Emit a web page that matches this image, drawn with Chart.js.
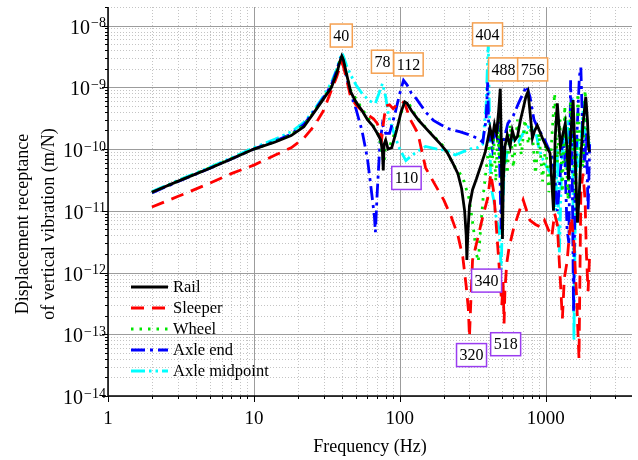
<!DOCTYPE html>
<html>
<head>
<meta charset="utf-8">
<script src="https://cdn.jsdelivr.net/npm/chart.js@4.4.1/dist/chart.umd.min.js"></script>
<style>
  html, body { margin: 0; padding: 0; background: #fff; }
</style>
</head>
<body>
<canvas id="chart" width="638" height="460"></canvas>
<script>
// frequency (Hz) / receptance (m/N)
const railFreq = [2,3,5,7,10,14,18,22,26,30,34,37,39,40,41,43,46,50,55,60,65,70,74,76,77,78,80,83,88,95,102,108,112,120,135,150,170,190,210,230,250,265,278,285,288,292,300,315,335,360,385,400,415,430,445,460,475,488,495,500,505,512,525,545,570,590,615,640,670,700,730,756,780,810,840,875,920,960,1010,1070,1100,1130,1160,1200,1230,1260,1300,1360,1400,1430,1480,1540,1600,1650,1700,1740,1800,1880,1930,1970,2000];
const railVals = [2e-11,3e-11,4.9e-11,6.9e-11,1.0e-10,1.3e-10,1.65e-10,2.3e-10,4.0e-10,6.5e-10,1.0e-9,1.7e-9,2.7e-9,3.2e-9,2.8e-9,1.7e-9,8.5e-10,5.8e-10,4.2e-10,3.0e-10,2.4e-10,1.8e-10,1.4e-10,9e-11,4.5e-11,1.2e-10,1.4e-10,1.0e-10,1.05e-10,2.0e-10,4.0e-10,5.8e-10,5.5e-10,4.2e-10,2.9e-10,2.2e-10,1.6e-10,1.2e-10,9e-11,6e-11,4e-11,2.3e-11,1.0e-11,4e-12,1.6e-12,4e-12,1.2e-11,2.2e-11,3.3e-11,5.5e-11,9e-11,1.4e-10,2.2e-10,1.5e-10,2.5e-10,1.8e-10,4e-10,9.5e-10,1.5e-10,2e-11,3.5e-12,3e-11,1.1e-10,1.7e-10,1.1e-10,2e-10,1.4e-10,1.6e-10,2.9e-10,4.5e-10,7e-10,8.5e-10,4e-10,1.5e-10,2e-10,2.4e-10,1.8e-10,1.4e-10,1.1e-10,8.6e-11,3e-11,1e-11,1.5e-10,5.5e-10,2.5e-10,1.1e-10,1.6e-10,2.6e-10,1e-10,3.2e-11,1.5e-10,6.2e-10,5e-11,6.4e-12,2e-11,7.4e-11,2.5e-10,7e-10,3e-10,1e-10,9e-11];

const sleeperFreq = [2,3,5,7,10,14,18,22,26,30,34,37,39,40,41,43,46,50,55,60,66,70,73,75,77,80,85,90,95,102,108,118,133,150,175,200,225,250,270,285,295,300,305,315,340,370,400,420,440,460,480,500,510,518,525,540,560,600,650,700,740,780,850,920,980,1040,1100,1150,1200,1250,1300,1340,1400,1450,1500,1560,1620,1690,1740,1800,1860,1900,1950,2000];
const sleeperVals = [1.15e-11,1.7e-11,2.8e-11,4e-11,5.5e-11,8e-11,1.05e-10,1.5e-10,2.4e-10,4.2e-10,9e-10,1.5e-9,2.2e-9,2.5e-9,2.2e-9,1.4e-9,7e-10,5.2e-10,4.2e-10,3.6e-10,3.1e-10,2.6e-10,2.0e-10,1.4e-10,2.5e-10,5e-10,5.2e-10,4.5e-10,5.2e-10,6e-10,5.5e-10,3e-10,1.8e-10,5e-11,2.6e-11,1.5e-11,8e-12,4e-12,1.8e-12,6e-13,2.5e-13,9e-14,2.5e-13,1.6e-12,3.4e-12,8e-12,1.6e-11,4e-11,2e-11,5e-12,1.2e-12,3e-13,7e-13,1.5e-13,5e-13,1.4e-12,2.5e-12,5e-12,9e-12,1.5e-11,1e-11,7e-12,6e-12,5.5e-12,7e-12,5e-12,3.8e-12,9e-12,6e-12,1e-12,1.8e-13,8e-13,1.5e-12,4e-12,8e-12,3e-12,5e-13,4e-14,2e-11,4e-11,1.5e-11,2e-12,5e-13,2e-12];

const wheelFreq = [2,3,5,7,10,14,18,22,26,30,34,37,39,40,41,43,46,55,65,72,76,78,80,85,95,108,115,130,160,200,240,270,300,320,335,345,355,375,395,410,425,440,455,470,480,490,500,510,525,545,570,600,640,680,720,760,800,850,900,950,1000,1050,1100,1150,1200,1250,1300,1350,1420,1480,1540,1600,1660,1720,1800,1860,1920,2000];
const wheelVals = [2e-11,3e-11,5e-11,7e-11,1.0e-10,1.32e-10,1.7e-10,2.4e-10,4.1e-10,6.6e-10,1.05e-9,1.8e-9,2.8e-9,3.2e-9,2.8e-9,1.7e-9,9e-10,4.5e-10,2.5e-10,1.6e-10,8e-11,6e-11,1.3e-10,1.1e-10,2.2e-10,5.8e-10,5.5e-10,3.3e-10,1.9e-10,1.1e-10,5e-11,3.5e-11,1.5e-11,5e-12,2e-12,1.5e-12,4e-12,2e-11,6e-11,1.2e-10,4e-11,1.5e-10,3e-11,2e-10,6e-11,3e-10,1.5e-11,2.5e-11,1e-10,4e-11,2.5e-10,5e-11,3e-10,8e-11,3e-10,1.2e-10,2.5e-10,4e-11,1.8e-10,3e-11,1.2e-10,2e-11,1.5e-10,8e-10,6e-11,3e-10,2e-11,5e-10,1.5e-11,6e-10,1e-10,1.5e-11,8e-10,1e-10,5e-11,9e-10,2e-10,1.2e-10];

const axleEndFreq = [2,3,5,7,10,14,18,22,26,30,34,37,39,40,41,43,46,50,55,60,64,67,68,70,73,76,80,85,92,100,106,112,120,130,150,170,190,220,260,300,340,370,390,400,405,415,430,445,460,475,485,495,505,520,550,600,650,700,740,780,830,900,960,1030,1100,1150,1200,1250,1300,1350,1400,1440,1480,1520,1550,1590,1640,1700,1740,1790,1840,1900,1950,2000];
const axleEndVals = [1.95e-11,2.95e-11,4.9e-11,6.9e-11,1.0e-10,1.35e-10,1.75e-10,2.5e-10,4.2e-10,6.8e-10,1.1e-9,1.9e-9,2.9e-9,3.1e-9,2.6e-9,1.5e-9,8e-10,4.5e-10,2e-10,7e-11,2e-11,8e-12,4.5e-12,2e-11,1.2e-10,2.5e-10,1.8e-10,1.8e-10,3.5e-10,8e-10,1.3e-9,1.1e-9,8e-10,6.5e-10,4e-10,2.9e-10,2.5e-10,2.1e-10,1.9e-10,1.7e-10,1.5e-10,1.3e-10,3e-10,1.2e-9,3e-10,1.5e-10,1e-10,2e-10,1.6e-10,3e-10,4e-11,5e-12,4e-11,1.5e-10,2.6e-10,3.5e-10,5.5e-10,8e-10,1.05e-9,7e-10,3e-10,2e-10,1.6e-10,1.1e-10,8e-11,4e-11,1e-11,3e-11,1.5e-10,8e-11,5e-12,3e-12,1.3e-9,4e-11,2.3e-13,3e-11,2e-10,1.5e-9,2.1e-9,2e-10,5e-11,1.8e-10,1e-11,1.2e-10];

const axleMidFreq = [2,3,5,7,10,14,18,22,26,30,34,37,39,40,41,43,46,50,55,62,68,72,76,80,84,90,98,105,110,118,130,150,180,210,240,270,300,340,370,390,400,404,410,420,440,460,480,495,505,520,550,600,650,700,750,800,850,900,960,1020,1080,1130,1170,1200,1240,1280,1320,1370,1420,1470,1520,1560,1600,1650,1700,1760,1820,1880,1950,2000];
const axleMidVals = [2.05e-11,3.1e-11,5.1e-11,7.2e-11,1.05e-10,1.45e-10,1.9e-10,2.7e-10,4.4e-10,7.2e-10,1.2e-9,2e-9,3e-9,3.6e-9,3.2e-9,2.3e-9,1.6e-9,1.1e-9,8e-10,6e-10,5.5e-10,8e-10,1.15e-9,7e-10,3.3e-10,2e-10,1.1e-10,8e-11,6.5e-11,7.5e-11,9e-11,1.1e-10,1e-10,9.5e-11,8e-11,9e-11,1e-10,1.05e-10,1.2e-10,5e-10,3e-9,5e-9,6e-10,2.5e-11,1.5e-11,7e-12,5e-12,1.1e-12,8e-12,5e-11,1e-10,1.4e-10,1.3e-10,1.8e-10,2.3e-10,2.1e-10,2e-10,1e-10,6.6e-11,5e-11,4e-11,2.2e-11,1e-11,1e-10,2e-12,4e-11,2e-10,5e-11,3e-10,8e-11,7e-10,8e-14,2e-11,1.5e-10,5e-11,2e-10,6e-10,1e-10,1.6e-10,1e-10];

// boxed frequency marks (text, anchor frequency, anchor receptance)
const peakLabels = ['40', '78', '112', '404', '488', '756'];
const peakFreq = [39.7, 76, 114.6, 399, 514, 813];
const peakAt = [6.9e-9, 2.6e-9, 2.35e-9, 7.2e-9, 1.95e-9, 1.95e-9];
const troughLabels = ['110', '340', '320', '518'];
const troughFreq = [111, 393, 310, 531];
const troughAt = [3.4e-11, 7.4e-13, 4.6e-14, 6.9e-14];

const xDecades = [1, 10, 100, 1000];
const yExponents = [-14, -13, -12, -11, -10, -9, -8];

const SERIF = '"Liberation Serif", "Times New Roman", serif';

function pts(fs, vs) {
  return fs.map((f, i) => ({ x: f, y: vs[i] }));
}

function series(label, fs, vs, color, dash) {
  return {
    label: label,
    data: pts(fs, vs),
    borderColor: color,
    backgroundColor: color,
    borderWidth: 2.8,
    borderDash: dash,
    pointRadius: 0,
    tension: 0,
    fill: false,
  };
}

const datasets = [
  series('Rail', railFreq, railVals, '#000000', []),
  series('Sleeper', sleeperFreq, sleeperVals, '#ff0000', [13, 8]),
  series('Wheel', wheelFreq, wheelVals, '#00e600', [2.5, 6]),
  series('Axle end', axleEndFreq, axleEndVals, '#0000ff', [14, 5, 3, 5]),
  series('Axle midpoint', axleMidFreq, axleMidVals, '#00ffff', [14, 4, 2.5, 4, 2.5, 4]),
];

// minor values m * 10^(e-1) that fall inside the y range
function yMinorValues(ys) {
  const out = [];
  for (const e of yExponents.concat([-7])) {
    for (let m = 2; m <= 9; m++) {
      const v = m * Math.pow(10, e - 1);
      if (v < ys.min * 0.9999 || v > ys.max * 1.0001) continue;
      out.push(v);
    }
  }
  return out;
}

// grid lines
const gridPlugin = {
  id: 'logGrid',
  beforeDatasetsDraw(chart) {
    const ctx = chart.ctx;
    const a = chart.chartArea;
    const xs = chart.scales.x, ys = chart.scales.y;
    ctx.save();
    ctx.lineWidth = 1;
    // minor
    ctx.strokeStyle = '#c4c4c4';
    ctx.setLineDash([1, 2]);
    for (const d of xDecades) {
      for (let m = 2; m <= 9; m++) {
        const v = m * d;
        if (v > xs.max) break;
        const px = Math.round(xs.getPixelForValue(v)) + 0.5;
        ctx.beginPath(); ctx.moveTo(px, a.top); ctx.lineTo(px, a.bottom); ctx.stroke();
      }
    }
    for (const v of yMinorValues(ys)) {
      const py = Math.round(ys.getPixelForValue(v)) + 0.5;
      ctx.beginPath(); ctx.moveTo(a.left, py); ctx.lineTo(a.right, py); ctx.stroke();
    }
    // major
    ctx.setLineDash([]);
    ctx.strokeStyle = '#9c9c9c';
    for (const d of xDecades) {
      const px = Math.round(xs.getPixelForValue(d)) + 0.5;
      ctx.beginPath(); ctx.moveTo(px, a.top); ctx.lineTo(px, a.bottom); ctx.stroke();
    }
    for (const e of yExponents) {
      const py = Math.round(ys.getPixelForValue(Math.pow(10, e))) + 0.5;
      ctx.beginPath(); ctx.moveTo(a.left, py); ctx.lineTo(a.right, py); ctx.stroke();
    }
    ctx.restore();
  },
};

const decorPlugin = {
  id: 'decor',
  afterDatasetsDraw(chart) {
    const ctx = chart.ctx;
    const a = chart.chartArea;
    const xs = chart.scales.x, ys = chart.scales.y;
    ctx.save();

    // axes lines
    ctx.strokeStyle = '#000';
    ctx.lineWidth = 1.5;
    ctx.beginPath();
    ctx.moveTo(a.left, a.top);
    ctx.lineTo(a.left, a.bottom);
    ctx.lineTo(a.right, a.bottom);
    ctx.stroke();

    // tick marks
    ctx.lineWidth = 1;
    for (const d of xDecades) {
      for (let m = 1; m <= 9; m++) {
        const v = m * d;
        if (v > xs.max) break;
        const px = Math.round(xs.getPixelForValue(v)) + 0.5;
        const len = m === 1 ? 6 : 3;
        ctx.beginPath(); ctx.moveTo(px, a.bottom); ctx.lineTo(px, a.bottom + len); ctx.stroke();
      }
    }
    for (const v of yMinorValues(ys)) {
      const py = Math.round(ys.getPixelForValue(v)) + 0.5;
      ctx.beginPath(); ctx.moveTo(a.left, py); ctx.lineTo(a.left - 3, py); ctx.stroke();
    }
    for (const e of yExponents) {
      const py = Math.round(ys.getPixelForValue(Math.pow(10, e))) + 0.5;
      ctx.beginPath(); ctx.moveTo(a.left, py); ctx.lineTo(a.left - 6, py); ctx.stroke();
    }

    // x tick labels
    ctx.fillStyle = '#000';
    ctx.font = '19px ' + SERIF;
    ctx.textAlign = 'center';
    ctx.textBaseline = 'alphabetic';
    for (const d of xDecades) {
      ctx.fillText(String(d), xs.getPixelForValue(d), 424);
    }

    // y tick labels 10^n
    for (const e of yExponents) {
      const py = ys.getPixelForValue(Math.pow(10, e));
      const sup = '\u2212' + Math.abs(e);
      ctx.font = '14px ' + SERIF;
      const wSup = ctx.measureText(sup).width;
      ctx.textAlign = 'left';
      ctx.fillText(sup, 106 - wSup, py + 1.5);
      ctx.font = '20px ' + SERIF;
      const wBase = ctx.measureText('10').width;
      ctx.fillText('10', 106 - wSup - wBase - 1, py + 8);
    }

    // axis titles
    ctx.font = '18px ' + SERIF;
    ctx.textAlign = 'center';
    ctx.fillText('Frequency (Hz)', (a.left + a.right) / 2, 451.5);
    ctx.save();
    ctx.translate(0, 224);
    ctx.rotate(-Math.PI / 2);
    ctx.fillText('Displacement receptance', 0, 28);
    ctx.fillText('of vertical vibration (m/N)', 0, 54);
    ctx.restore();

    // legend
    ctx.font = '16.5px ' + SERIF;
    ctx.textAlign = 'left';
    ctx.textBaseline = 'middle';
    chart.data.datasets.forEach((ds, i) => {
      const y = 287 + i * 21;
      ctx.strokeStyle = ds.borderColor;
      ctx.lineWidth = 3;
      ctx.setLineDash(ds.borderDash);
      ctx.beginPath(); ctx.moveTo(131, y); ctx.lineTo(168, y); ctx.stroke();
      ctx.setLineDash([]);
      ctx.fillStyle = '#000';
      ctx.fillText(ds.label, 173, y + 1);
    });

    // boxed marks
    function box(text, f, v, color) {
      const cx = xs.getPixelForValue(f);
      const cy = ys.getPixelForValue(v);
      ctx.font = '16px ' + SERIF;
      const w = ctx.measureText(text).width + 6;
      const h = 23;
      ctx.fillStyle = '#fff';
      ctx.fillRect(cx - w / 2, cy - h / 2, w, h);
      ctx.strokeStyle = color;
      ctx.lineWidth = 1.5;
      ctx.strokeRect(cx - w / 2, cy - h / 2, w, h);
      ctx.fillStyle = '#000';
      ctx.textAlign = 'center';
      ctx.textBaseline = 'middle';
      ctx.fillText(text, cx, cy + 1);
    }
    peakLabels.forEach((t, i) => box(t, peakFreq[i], peakAt[i], '#f5a050'));
    troughLabels.forEach((t, i) => box(t, troughFreq[i], troughAt[i], '#9a3cf0'));

    ctx.restore();
  },
};

const ctx = document.getElementById('chart').getContext('2d');
new Chart(ctx, {
  type: 'line',
  data: { datasets: datasets },
  options: {
    responsive: false,
    animation: false,
    layout: { padding: { top: 7, right: 6, left: 0, bottom: 0 } },
    plugins: { legend: { display: false }, tooltip: { enabled: false } },
    scales: {
      x: {
        type: 'logarithmic', min: 1, max: 3900,
        grid: { display: false }, border: { display: false },
        ticks: { display: false },
        afterFit(s) { s.height = 64; },
      },
      y: {
        type: 'logarithmic', min: 1e-14, max: 2e-8,
        grid: { display: false }, border: { display: false },
        ticks: { display: false },
        afterFit(s) { s.width = 108; },
      },
    },
  },
  plugins: [gridPlugin, decorPlugin],
});
</script>
</body>
</html>
